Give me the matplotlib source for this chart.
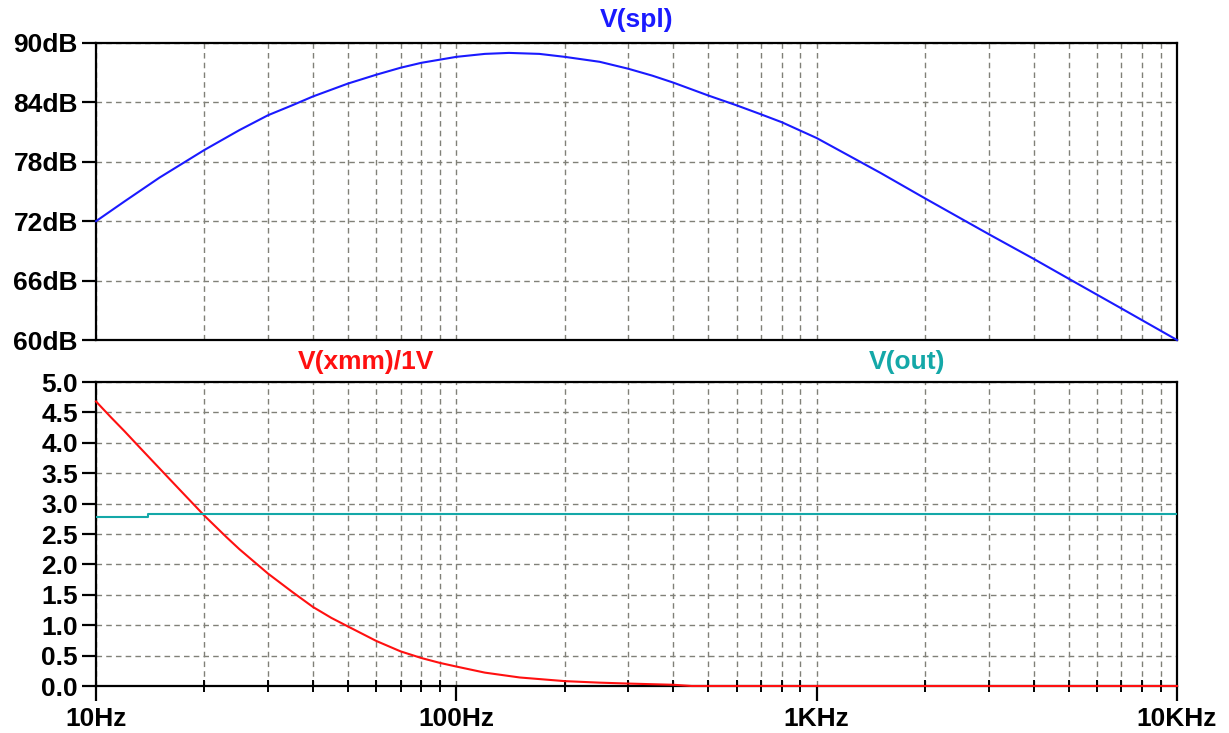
import matplotlib
matplotlib.use("Agg")
import matplotlib.pyplot as plt
from matplotlib.ticker import FixedLocator, LogLocator, NullFormatter

# V(spl) - Schalldruck (dB)
spl_freq = [10, 12, 15, 20, 25, 30, 35, 40, 50, 60, 70, 80, 100, 120, 140, 170, 200,
            250, 300, 350, 400, 500, 600, 700, 800, 1000, 1500, 2000, 3000, 4000,
            5000, 7000, 10000]
spl_db = [72.0, 74.0, 76.4, 79.2, 81.2, 82.7, 83.7, 84.6, 85.9, 86.8, 87.5, 88.0,
          88.6, 88.9, 89.0, 88.9, 88.6, 88.1, 87.4, 86.7, 86.0, 84.7, 83.7, 82.8,
          82.0, 80.4, 76.9, 74.3, 70.7, 68.2, 66.2, 63.2, 60.0]

# V(xmm)/1V - Auslenkung
xmm_freq = [10, 11, 12, 13, 15, 17, 20, 23, 25, 30, 35, 40, 45, 50, 60, 70, 80, 90,
            100, 120, 150, 200, 250, 300, 400, 450, 1000, 10000]
xmm_val = [4.68, 4.42, 4.19, 3.97, 3.58, 3.24, 2.80, 2.45, 2.25, 1.85, 1.55, 1.30,
           1.12, 0.98, 0.74, 0.57, 0.46, 0.38, 0.32, 0.22, 0.14, 0.08, 0.055, 0.04,
           0.02, 0.0, 0.0, 0.0]

# V(out)
out_freq = [10, 13.9, 13.9, 10000]
out_val = [2.78, 2.78, 2.83, 2.83]

spl_ticks = [60, 66, 72, 78, 84, 90]
spl_labels = ["60dB", "66dB", "72dB", "78dB", "84dB", "90dB"]
lin_ticks = [0.0, 0.5, 1.0, 1.5, 2.0, 2.5, 3.0, 3.5, 4.0, 4.5, 5.0]
lin_labels = ["%.1f" % v for v in lin_ticks]
x_ticks = [10, 100, 1000, 10000]
x_labels = ["10Hz", "100Hz", "1KHz", "10KHz"]

plt.rcParams["font.family"] = ["Liberation Sans", "DejaVu Sans"]
plt.rcParams["font.weight"] = "bold"

W, H = 1229, 733
fig = plt.figure(figsize=(W / 100, H / 100), dpi=100)
fig.patch.set_facecolor("white")

ax1 = fig.add_axes([96 / W, (H - 340) / H, 1081 / W, 297 / H])
ax2 = fig.add_axes([96 / W, (H - 686) / H, 1081 / W, 304 / H])

grid_kw = dict(color="#808078", linewidth=1.0, linestyle=(0, (4, 3)))

for ax in (ax1, ax2):
    ax.set_xscale("log")
    ax.set_xlim(10, 10000)
    for s in ax.spines.values():
        s.set_linewidth(1.6)
        s.set_color("black")
    ax.xaxis.set_major_locator(FixedLocator(x_ticks))
    ax.xaxis.set_minor_locator(LogLocator(base=10, subs=range(2, 10)))
    ax.xaxis.set_minor_formatter(NullFormatter())
    ax.grid(True, which="both", axis="x", **grid_kw)
    ax.grid(True, which="major", axis="y", **grid_kw)
    ax.tick_params(axis="y", which="major", direction="out", length=10, width=1.6,
                   labelsize=19, pad=3)
    ax.tick_params(axis="y", which="minor", left=False)
    ax.set_axisbelow(True)

# oben: V(spl)
ax1.plot(spl_freq, spl_db, color="#1a1aff", linewidth=1.5, zorder=3, clip_on=False)
ax1.set_ylim(60, 90)
ax1.yaxis.set_major_locator(FixedLocator(spl_ticks))
ax1.set_yticklabels(spl_labels)
ax1.tick_params(axis="x", which="both", bottom=False, labelbottom=False)
ax1.text(0.5, 1.077, "V(spl)", transform=ax1.transAxes, ha="center", va="center",
         color="#1a1aff", fontsize=19, fontweight="bold")

# unten: V(xmm)/1V und V(out)
ax2.plot(xmm_freq, xmm_val, color="#ff1010", linewidth=1.5, zorder=3, clip_on=False)
ax2.plot(out_freq, out_val, color="#14a8a8", linewidth=1.5, zorder=3)
ax2.set_ylim(0, 5)
ax2.yaxis.set_major_locator(FixedLocator(lin_ticks))
ax2.set_yticklabels(lin_labels)
ax2.set_xticklabels(x_labels)
ax2.tick_params(axis="x", which="major", direction="out", length=11, width=1.6,
                labelsize=19, pad=4)
ax2.tick_params(axis="x", which="minor", direction="inout", length=8, width=1.4)
ax2.text(0.25, 1.066, "V(xmm)/1V", transform=ax2.transAxes, ha="center", va="center",
         color="#ff1010", fontsize=19, fontweight="bold")
ax2.text(0.75, 1.066, "V(out)", transform=ax2.transAxes, ha="center", va="center",
         color="#14a8a8", fontsize=19, fontweight="bold")

for lbl in ax1.get_yticklabels() + ax2.get_yticklabels() + ax2.get_xticklabels():
    lbl.set_fontweight("bold")

fig.savefig("out.png", dpi=100, facecolor="white")
